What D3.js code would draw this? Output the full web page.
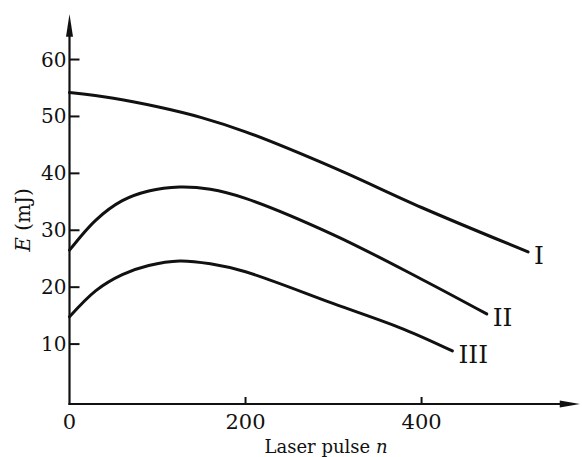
<!DOCTYPE html>
<html>
<head>
<meta charset="utf-8">
<script src="https://cdn.jsdelivr.net/npm/d3@7"></script>
<style>
  body { margin: 0; background: #fff; }
  svg text { font-family: "DejaVu Serif", "Liberation Serif", serif; fill: #111; }
</style>
</head>
<body>
<div id="chart"></div>
<script>
// energy vs laser pulse count, three curves
const pulses1 = [0, 50, 100, 150, 200, 300, 400, 521];
const energy1 = [54.2, 53.2, 51.7, 49.8, 47.3, 41.0, 34.0, 26.2];
const pulses2 = [0, 30, 60, 90, 125, 160, 200, 300, 400, 474];
const energy2 = [26.5, 31.8, 35.2, 36.9, 37.6, 37.2, 35.6, 29.2, 21.4, 15.3];
const pulses3 = [0, 30, 60, 90, 125, 160, 200, 300, 380, 435];
const energy3 = [14.8, 19.4, 22.2, 23.8, 24.6, 24.1, 22.7, 17.1, 12.6, 8.8];
const curveNames = ['I', 'II', 'III'];
const xTicks = [0, 200, 400];
const yTicks = [10, 20, 30, 40, 50, 60];

const W = 582, H = 457;
const x = d3.scaleLinear().domain([0, 580]).range([69.5, 580]);
const y = d3.scaleLinear().domain([0, 68]).range([401, 14]);

const svg = d3.select('#chart').append('svg')
  .attr('width', W).attr('height', H);

const ink = '#111';
const axisY = y(0) + 3;

// axes
svg.append('line').attr('x1', x(0)).attr('x2', x(0)).attr('y1', axisY + 1).attr('y2', y(65))
  .attr('stroke', ink).attr('stroke-width', 2.2);
svg.append('line').attr('x1', x(0) - 1).attr('x2', x(565)).attr('y1', axisY).attr('y2', axisY)
  .attr('stroke', ink).attr('stroke-width', 2);
// arrow heads
svg.append('path')
  .attr('d', `M${x(0)},${y(68)} L${x(0) - 3.5},${y(64)} L${x(0) + 3.5},${y(64)} Z`)
  .attr('fill', ink);
svg.append('path')
  .attr('d', `M${x(580)},${axisY} L${x(557)},${axisY - 3.5} L${x(557)},${axisY + 3.5} Z`)
  .attr('fill', ink);

// y ticks (pointing inward)
const yg = svg.append('g');
yg.selectAll('line').data(yTicks).join('line')
  .attr('x1', x(0)).attr('x2', x(0) + 10)
  .attr('y1', d => y(d)).attr('y2', d => y(d))
  .attr('stroke', ink).attr('stroke-width', 2);
yg.selectAll('text').data(yTicks).join('text')
  .attr('x', x(0) - 3).attr('y', d => y(d) + 7)
  .attr('text-anchor', 'end').attr('font-size', 20)
  .text(d => d);

// x ticks
const xg = svg.append('g');
xg.selectAll('line').data(xTicks.filter(d => d > 0)).join('line')
  .attr('x1', d => x(d)).attr('x2', d => x(d))
  .attr('y1', axisY).attr('y2', axisY - 7)
  .attr('stroke', ink).attr('stroke-width', 2);
xg.selectAll('text').data(xTicks).join('text')
  .attr('x', d => x(d)).attr('y', axisY + 25)
  .attr('text-anchor', 'middle').attr('font-size', 21)
  .text(d => d);

// axis titles
svg.append('text')
  .attr('x', 326).attr('y', 453).attr('text-anchor', 'middle').attr('font-size', 18)
  .html('Laser pulse <tspan font-style="italic">n</tspan>');
svg.append('text')
  .attr('transform', `translate(30, 220) rotate(-90)`)
  .attr('text-anchor', 'middle').attr('font-size', 20)
  .html('<tspan font-style="italic">E</tspan> (mJ)');

// curves
const series = [
  [pulses1, energy1],
  [pulses2, energy2],
  [pulses3, energy3]
];
const line = d3.line().x(p => x(p[0])).y(p => y(p[1])).curve(d3.curveCatmullRom.alpha(.5));
series.forEach(([px, py], i) => {
  const pts = px.map((v, k) => [v, py[k]]);
  svg.append('path')
    .attr('d', line(pts))
    .attr('fill', 'none').attr('stroke', ink)
    .attr('stroke-width', 3).attr('stroke-linecap', 'round');
  const last = pts[pts.length - 1];
  svg.append('text')
    .attr('x', x(last[0]) + 6).attr('y', y(last[1]) + 12)
    .attr('font-size', 25)
    .text(curveNames[i]);
});
</script>
</body>
</html>
